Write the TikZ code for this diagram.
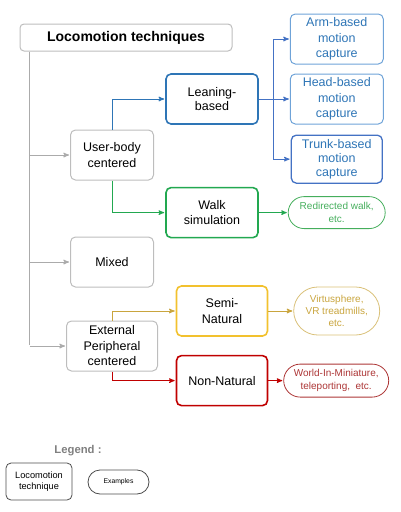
\documentclass[tikz,border=0pt]{standalone}
\usepackage{fontspec}
\setmainfont{Liberation Sans}
\usetikzlibrary{
        arrows,
        positioning,
        shapes.misc
    }
\definecolor{boxgray}{HTML}{BDBDBD}
\definecolor{linegray}{HTML}{ABABAB}
\definecolor{leanblue}{HTML}{2E75B6}
\definecolor{capblue}{HTML}{6FA3D8}
\definecolor{trunkblue}{HTML}{4472C4}
\definecolor{walkgreen}{HTML}{22A850}
\definecolor{exgreen}{HTML}{45AE5C}
\definecolor{semiyellow}{HTML}{F2C12E}
\definecolor{exyellow}{HTML}{C9A53E}
\definecolor{nonred}{HTML}{C00000}
\definecolor{exred}{HTML}{AC3535}
\tikzset{>=stealth',shorten >=1pt,auto}

\begin{document}
\begin{tikzpicture}[x=1pt,y=-1pt]
        \tikzset{tech/.style={draw=boxgray,line width=1pt,rounded corners=5pt,align=center,
                    font=\fontsize{12.5}{15.5}\selectfont,minimum width=83pt,minimum height=50pt,inner sep=2pt}}
        \tikzset{strong/.style={tech,line width=1.6pt,minimum width=92pt}}
        \tikzset{ex/.style={rounded rectangle,draw,line width=0.8pt,align=center,
                    font=\fontsize{10}{12.5}\selectfont,inner sep=2pt}}
        \tikzset{link/.style={->,line width=1pt}}
        \useasboundingbox (0,0) rectangle (400,512);

        \node[tech,minimum width=212pt,minimum height=27pt,rounded corners=4pt,
              font=\fontsize{14}{16}\selectfont\bfseries] (title) at (126,37.5) {Locomotion techniques};
        \coordinate (spine) at ([xshift=10pt]title.south west);

        \node[tech] (user) at (112,155) {User-body\\centered};
        \node[tech] (mixed) [below=56pt of user] {Mixed};
        \node[tech,minimum width=91pt] (ext) [below=33pt of mixed] {External\\Peripheral\\centered};

        \node[strong,draw=leanblue,font=\fontsize{12.5}{13.5}\selectfont] (lean) at (212,99) {Leaning-\\based};
        \node[strong,draw=walkgreen] (walk) [below=62pt of lean] {Walk\\simulation};
        \node[strong,draw=semiyellow,minimum width=91pt] (semi) at (222,311) {Semi-\\Natural};
        \node[strong,draw=nonred,minimum width=91pt] (nonnat) [below=18pt of semi] {Non-Natural};

        \node[tech,draw=capblue,text=leanblue,minimum width=93pt] (head) [right=31pt of lean] {Head-based\\motion\\capture};
        \node[tech,draw=capblue,text=leanblue,minimum width=93pt] (arm) [above=9pt of head] {Arm-based\\motion\\capture};
        \node[tech,draw=trunkblue,text=leanblue,line width=1.3pt,minimum width=91pt,minimum height=48pt,
              font=\fontsize{12.5}{14}\selectfont] (trunk) [below=10pt of head] {Trunk-based\\motion\\capture};

        \node[ex,draw=exgreen,text=exgreen,minimum width=101pt,minimum height=32pt] (redir) [right=29pt of walk] {Redirected walk,\\etc.};
        \node[ex,draw=exyellow!70,text=exyellow,minimum width=90pt,minimum height=48pt,
              font=\fontsize{10}{12}\selectfont] (virtu) [right=25pt of semi] {Virtusphere,\\VR treadmills,\\etc.};
        \node[ex,draw=exred,text=exred,minimum width=109pt,minimum height=33pt] (wim) [right=15pt of nonnat] {World-In-Miniature,\\teleporting,\ \ etc.};

        % legend
        \node[text=gray,font=\fontsize{11.3}{13}\selectfont\bfseries] (legend) at (78,451) {Legend :};
        \node[tech,draw=black!70,line width=0.8pt,minimum width=66pt,minimum height=37pt,
              font=\fontsize{9.2}{11}\selectfont] (legtech) at (39,481.5) {Locomotion\\technique};
        \node[ex,draw=black!70,minimum width=65pt,minimum height=24pt,
              font=\fontsize{6.8}{8}\selectfont] (legex) at (118.5,482) {Examples};

        % connectors
        \path[link,linegray]
                (spine) edge[-] (spine |- ext)
                (spine |- user) edge (user.west)
                (spine |- mixed) edge (mixed.west)
                (spine |- ext) edge (ext.west);
        \coordinate (split) at ([xshift=15pt]lean.east);
        \draw[link,leanblue] (user.north) |- (lean.west);
        \draw[link,trunkblue] (lean.east) -- (split) |- (arm.west);
        \draw[link,trunkblue] (lean.east) -- (head.west);
        \draw[link,trunkblue] (split) |- (trunk.west);
        \draw[link,walkgreen] (user.south) |- (walk.west);
        \draw[link,walkgreen] (walk) -- (redir);
        \draw[link,exyellow] (ext.north) |- (semi.west);
        \draw[link,exyellow] (semi) -- (virtu);
        \draw[link,nonred] (ext.south) |- (nonnat.west);
        \draw[link,nonred] (nonnat) -- (wim);
\end{tikzpicture}
\end{document}
